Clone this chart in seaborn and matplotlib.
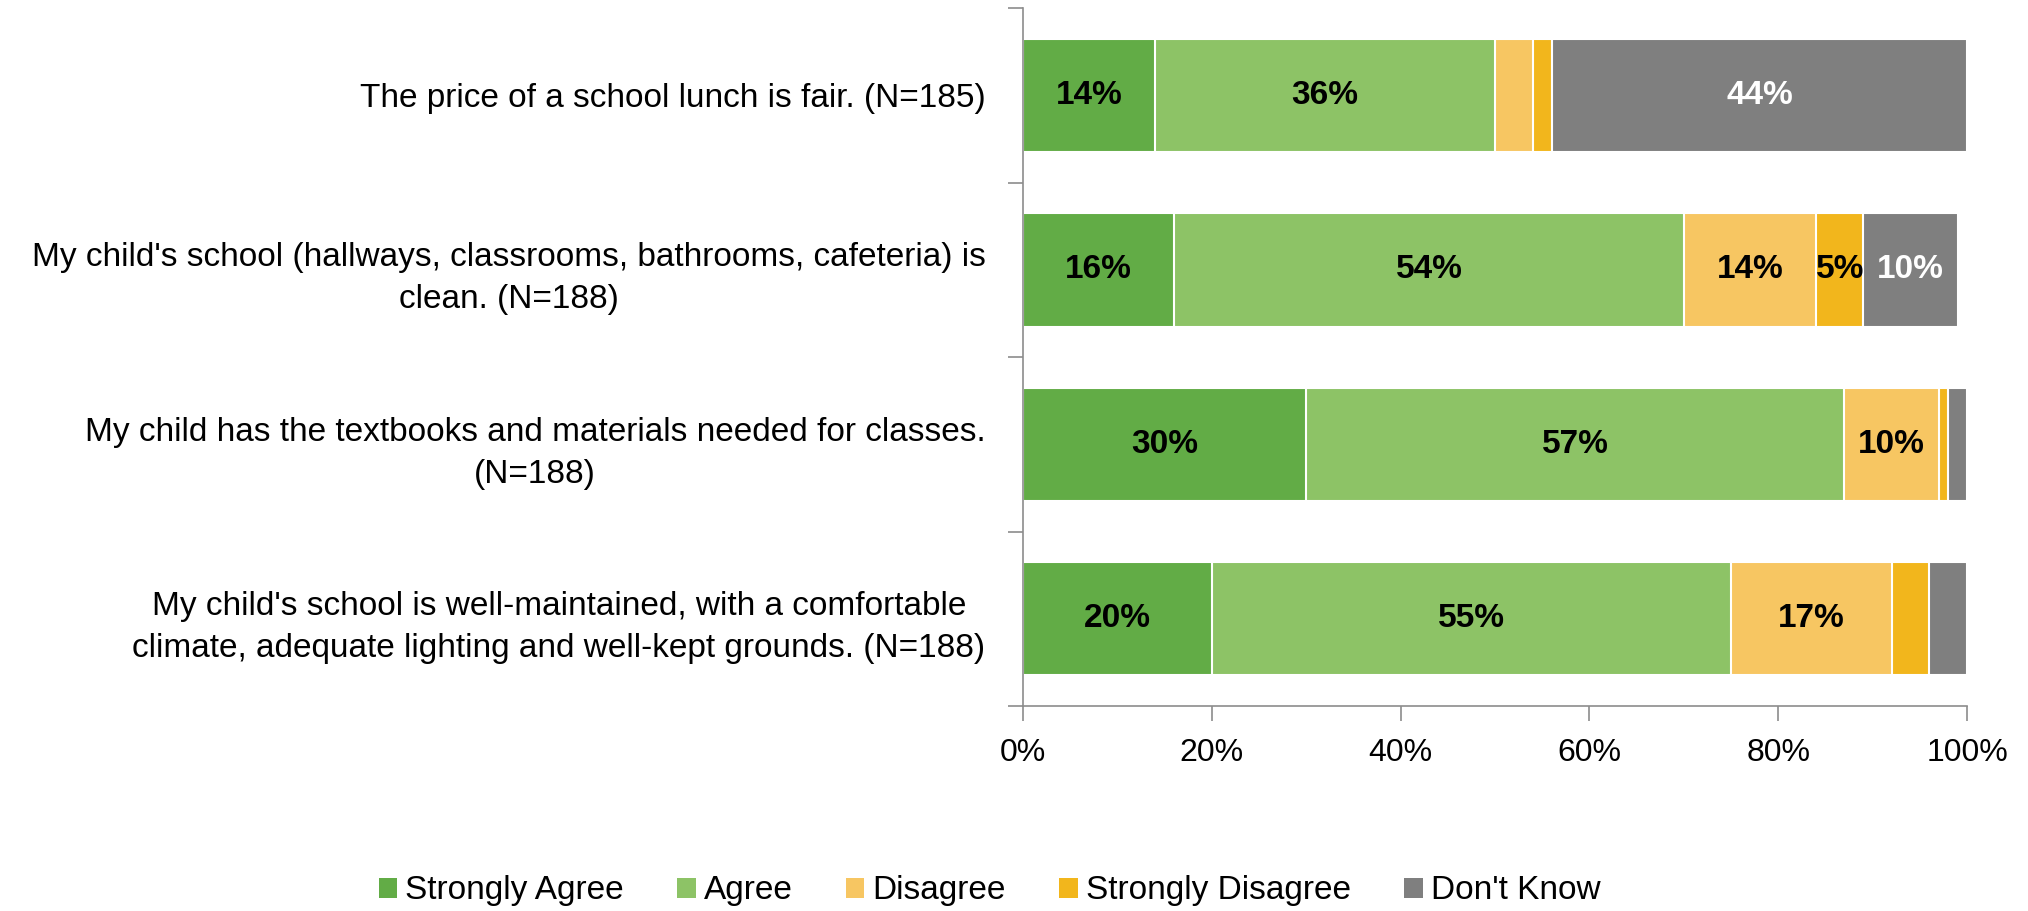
import numpy as np
import pandas as pd
import matplotlib
matplotlib.use("Agg")
import matplotlib.pyplot as plt
import seaborn as sns
from matplotlib.patches import Patch
from matplotlib.ticker import FixedLocator

# survey items (top to bottom)
questions = [
    "The price of a school lunch is fair. (N=185)",
    "My child's school (hallways, classrooms, bathrooms, cafeteria) is\nclean. (N=188)",
    "My child has the textbooks and materials needed for classes.\n(N=188)",
    "My child's school is well-maintained, with a comfortable\nclimate, adequate lighting and well-kept grounds. (N=188)",
]
responses = ["Strongly Agree", "Agree", "Disagree", "Strongly Disagree", "Don't Know"]

strongly_agree = [14, 16, 30, 20]
agree = [36, 54, 57, 55]
disagree = [4, 14, 10, 17]
strongly_disagree = [2, 5, 1, 4]
dont_know = [44, 10, 2, 4]

colors = ["#62AC46", "#8DC366", "#F7C662", "#F2B61C", "#7F7F7F"]
label_colors = ["black", "black", "black", "black", "white"]

sns.set_theme(style="white")
plt.rcParams["font.family"] = ["Liberation Sans", "DejaVu Sans"]
plt.rcParams["text.color"] = "black"
plt.rcParams["xtick.color"] = "black"
plt.rcParams["ytick.color"] = "black"

df = pd.DataFrame(
    [strongly_agree, agree, disagree, strongly_disagree, dont_know],
    index=responses, columns=questions,
).T
cum = df.cumsum(axis=1)

fig = plt.figure(figsize=(20.28, 9.11), dpi=100)
ax = fig.add_axes([0.5044, 0.225, 0.4656, 0.766])

# draw cumulative totals from the widest down so each layer shows its segment
for i in range(len(responses) - 1, -1, -1):
    col = responses[i]
    sns.barplot(x=cum[col].values, y=questions, orient="h", color=colors[i],
                width=0.65, edgecolor="white", linewidth=1.5, saturation=1,
                ax=ax)

# value labels (small segments stay unlabelled)
for i, col in enumerate(responses):
    for j, q in enumerate(questions):
        v = df.loc[q, col]
        if v >= 5:
            ax.text(cum.loc[q, col] - v / 2, j, f"{v}%", ha="center", va="center",
                    fontsize=24, fontweight="bold", color=label_colors[i])

ax.set_xlim(0, 100)
ax.set_ylim(len(questions) - 0.5, -0.5)
ax.set_xticks([0, 20, 40, 60, 80, 100])
ax.set_xticklabels([f"{t}%" for t in [0, 20, 40, 60, 80, 100]], fontsize=23)
ax.set_xlabel("")
ax.set_ylabel("")

# category labels centred on bars, tick marks between categories
ax.yaxis.set_minor_locator(FixedLocator(np.arange(-0.5, len(questions), 1.0)))
ax.tick_params(axis="y", which="major", length=0, pad=27, labelsize=24)
ax.tick_params(axis="y", which="minor", length=11, width=1.2, color="#8C8C8C",
               direction="out", left=True)
ax.tick_params(axis="x", which="major", length=11, width=1.2, color="#8C8C8C",
               direction="out", bottom=True, pad=12)
for lbl in ax.get_yticklabels():
    lbl.set_multialignment("center")
    lbl.set_linespacing(1.45)

for side in ["top", "right"]:
    ax.spines[side].set_visible(False)
for side in ["left", "bottom"]:
    ax.spines[side].set_color("#8C8C8C")
    ax.spines[side].set_linewidth(1.2)

handles = [Patch(facecolor=c, edgecolor="none") for c in colors]
fig.legend(handles, responses, loc="center", bbox_to_anchor=(0.488, 0.022),
           ncol=5, frameon=False, fontsize=24, handlelength=0.55, handleheight=0.55,
           handletextpad=0.25, columnspacing=1.6)

fig.savefig("out.png", dpi=100)
